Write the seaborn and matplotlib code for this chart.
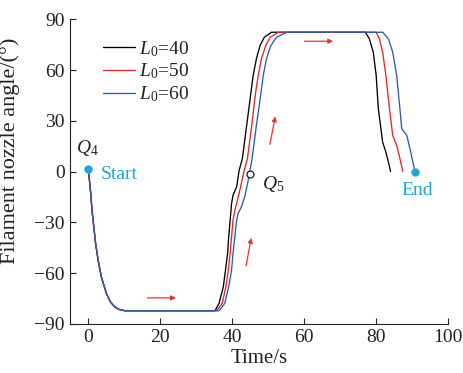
import numpy as np
import pandas as pd
import matplotlib
matplotlib.use("Agg")
import matplotlib.pyplot as plt
import seaborn as sns

# ---- data ----
t_40 = [0, 0.3, 0.75, 1.1, 1.6, 2.1, 2.8, 3.7, 5.1, 6.2, 7.4, 8.6, 10.2,
        35.3, 36.4, 37.6, 38.2, 38.8, 39.1, 39.5, 39.9, 40.3, 41.3, 42.0, 42.9,
        44.1, 45.3, 45.9, 46.8, 47.8, 49.0, 51.0,
        77.1, 78.2, 79.3, 80.1, 80.7, 81.9, 82.8, 83.5, 84.1]
a_40 = [1.5, -3.2, -13, -22.9, -32.7, -42.5, -52.4, -62.3, -72.1, -77, -80, -81.5, -82.3,
        -82.3, -78, -68.2, -58.3, -48.4, -38.6, -28.8, -18.9, -14, -9.1, 0.7, 7.6,
        27.3, 47, 56.8, 66.7, 74.5, 79.4, 82.4,
        82.4, 78.5, 70.6, 56.8, 37.2, 17.4, 11.5, 5.6, 0.1]

t_50 = [0, 0.3, 0.75, 1.1, 1.6, 2.1, 2.8, 3.7, 5.1, 6.2, 7.4, 8.6, 10.2,
        35.7, 37.3, 38.3, 39.0, 39.5, 39.9, 40.3, 40.8, 41.3, 42.4, 43.4, 44.3,
        45.5, 46.6, 47.3, 48.2, 49.4, 50.6, 52.9,
        80.1, 81.0, 81.9, 82.8, 83.8, 84.7, 85.8, 86.7, 87.5]
a_50 = [1.5, -3.2, -13, -22.9, -32.7, -42.5, -52.4, -62.3, -72.1, -77, -80, -81.5, -82.3,
        -82.3, -78, -68.2, -58.3, -48.4, -38.6, -28.8, -22.9, -18.9, -9.1, 0.7, 7.6,
        27.3, 47, 56.8, 66.7, 74.5, 79.4, 82.4,
        82.4, 78.5, 70.6, 56.8, 37.2, 21.4, 15.5, 7.6, 0.1]

t_60 = [0, 0.3, 0.75, 1.1, 1.6, 2.1, 2.8, 3.7, 5.1, 6.2, 7.4, 8.6, 10.2,
        36.4, 38.0, 39.1, 39.9, 40.3, 40.8, 41.3, 41.7, 42.7, 43.6, 44.4, 45.0, 45.6,
        46.8, 48.1, 48.7, 49.6, 50.8, 52.4, 55.2,
        81.9, 83.5, 84.7, 85.8, 86.7, 87.2, 88.6, 89.5, 90.3, 90.9]
a_60 = [1.5, -3.2, -13, -22.9, -32.7, -42.5, -52.4, -62.3, -72.1, -77, -80, -81.5, -82.3,
        -82.3, -78, -68.2, -58.3, -48.4, -38.6, -28.8, -24.8, -20.5, -14.5, -6.5, 0.7, 7.6,
        27.3, 47, 56.8, 66.7, 74.5, 79.4, 82.4,
        82.4, 78.5, 70.6, 56.8, 37.2, 25.3, 21.4, 13.5, 5.6, -0.3]

labels = [r"$L_0$=40", r"$L_0$=50", r"$L_0$=60"]
colors = ["#000000", "#e8242a", "#2a5caa"]

start_pt = (0, 1.5)
end_pt = (90.9, -0.5)
q5_pt = (45.1, -1.5)

x_ticks = [0, 20, 40, 60, 80, 100]
y_ticks = [-90, -60, -30, 0, 30, 60, 90]

df = pd.concat([
    pd.DataFrame({"Time": t_40, "Angle": a_40, "L0": labels[0]}),
    pd.DataFrame({"Time": t_50, "Angle": a_50, "L0": labels[1]}),
    pd.DataFrame({"Time": t_60, "Angle": a_60, "L0": labels[2]}),
], ignore_index=True)

sns.set_style("ticks")
plt.rcParams["font.family"] = ["Liberation Serif", "DejaVu Serif"]
plt.rcParams["mathtext.fontset"] = "custom"
plt.rcParams["mathtext.it"] = "Liberation Serif:italic"
plt.rcParams["mathtext.rm"] = "Liberation Serif"

fig = plt.figure(figsize=(4.64, 3.73), dpi=100)
ax = fig.add_axes([0.151, 0.132, 0.814, 0.816])

sns.lineplot(data=df, x="Time", y="Angle", hue="L0", palette=dict(zip(labels, colors)),
             sort=False, estimator=None, linewidth=0.95, ax=ax)

cyan = "#1ea5dc"
ax.plot(*start_pt, "o", color=cyan, ms=5, zorder=5)
ax.plot(*end_pt, "o", color=cyan, ms=5, zorder=5)
ax.plot(*q5_pt, "o", mfc="white", mec="black", mew=0.8, ms=5, zorder=5)

txt = "#222222"
ax.text(-0.1, 13.7, r"$Q_4$", fontsize=14, color=txt, ha="center", va="center")
ax.text(3.45, -1.6, "Start", fontsize=14, color=cyan, ha="left", va="center")
ax.text(91.5, -11.4, "End", fontsize=14, color=cyan, ha="center", va="center")
ax.text(48.3, -7.5, r"$Q_5$", fontsize=14, color=txt, ha="left", va="center")

arrow_kw = dict(arrowstyle="-|>", color="#ee3030", lw=0.9, mutation_scale=7)
ax.annotate("", xy=(25.2, -74.7), xytext=(15.8, -74.7), arrowprops=arrow_kw)
ax.annotate("", xy=(68.9, 77.1), xytext=(59.4, 77.1), arrowprops=arrow_kw)
ax.annotate("", xy=(45.5, -37.6), xytext=(43.8, -57.3), arrowprops=arrow_kw)
ax.annotate("", xy=(52.2, 34.2), xytext=(50.4, 14.5), arrowprops=arrow_kw)

ax.set_xlim(-5, 100)
ax.set_ylim(-90, 90)
ax.set_xticks(x_ticks)
ax.set_yticks(y_ticks)
ax.set_yticklabels([str(v).replace("-", "\u2212") for v in y_ticks])
ax.tick_params(direction="in", length=4, width=0.8, labelsize=14, colors=txt, pad=4)
ax.set_xlabel("Time/s", fontsize=15, color=txt, labelpad=2)
ax.set_ylabel("Filament nozzle angle/(\u00b0)", fontsize=16, color=txt)
ax.yaxis.set_label_coords(-0.132, 0.568)
sns.despine(ax=ax)
for s in ["left", "bottom"]:
    ax.spines[s].set_linewidth(0.8)
    ax.spines[s].set_color(txt)

leg = ax.legend(loc="upper left", bbox_to_anchor=(0.087, 0.935), frameon=False, fontsize=14,
                handlelength=1.65, handletextpad=0.2, labelspacing=0.15, borderaxespad=0,
                borderpad=0)
for t in leg.get_texts():
    t.set_color(txt)

fig.savefig("out.png", dpi=100)
